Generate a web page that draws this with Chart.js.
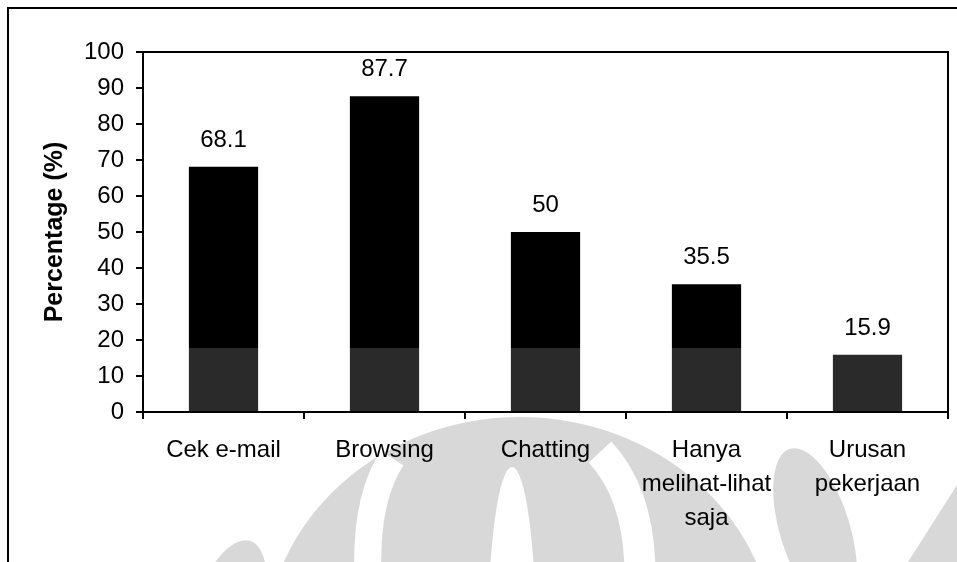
<!DOCTYPE html>
<html>
<head>
<meta charset="utf-8">
<script src="https://cdn.jsdelivr.net/npm/chart.js@4/dist/chart.umd.min.js"></script>
<style>
  html, body { margin: 0; padding: 0; background: #fff; }
  #wrap { width: 957px; height: 562px; position: relative; }
</style>
</head>
<body>
<div id="wrap"><canvas id="myChart"></canvas></div>
<script>
const activities = ["Cek e-mail", "Browsing", "Chatting", ["Hanya", "melihat-lihat", "saja"], ["Urusan", "pekerjaan"]];
const percentages = [68.1, 87.7, 50, 35.5, 15.9];
const yTicks = [0, 10, 20, 30, 40, 50, 60, 70, 80, 90, 100];

const FONT = "Liberation Sans, Arial, sans-serif";

// faint logo behind the category labels
const watermark = {
  id: "watermark",
  beforeDraw(chart) {
    const c = chart.ctx;
    c.save();
    c.beginPath();
    c.rect(0, 414, chart.width, chart.height);
    c.clip();
    c.fillStyle = "#d8d8d8";
    c.beginPath(); c.ellipse(520, 650, 255, 233, 0, 0, Math.PI * 2); c.fill();
    c.beginPath(); c.ellipse(815, 530, 35, 85, -0.3, 0, Math.PI * 2); c.fill();
    c.beginPath(); c.ellipse(225, 622, 35, 85, 0.3, 0, Math.PI * 2); c.fill();
    c.beginPath(); c.moveTo(957, 485); c.lineTo(957, 562); c.lineTo(908, 562); c.closePath(); c.fill();
    c.strokeStyle = "#ffffff";
    c.lineWidth = 27;
    c.beginPath(); c.moveTo(392, 458); c.quadraticCurveTo(365, 500, 368, 575); c.stroke();
    c.lineWidth = 31;
    c.beginPath(); c.moveTo(600, 452); c.quadraticCurveTo(640, 495, 640, 575); c.stroke();
    c.fillStyle = "#ffffff";
    c.beginPath(); c.ellipse(512, 640, 24, 173, 0, 0, Math.PI * 2); c.fill();
    c.restore();
  }
};

// value labels above bars, plot border and outer frame
const decorations = {
  id: "decorations",
  afterDraw(chart) {
    const c = chart.ctx;
    const a = chart.chartArea;
    c.save();
    c.strokeStyle = "#000";
    c.lineWidth = 2;
    c.strokeRect(a.left, a.top, a.right - a.left, a.bottom - a.top);
    c.beginPath();
    c.moveTo(8, chart.height); c.lineTo(8, 8); c.lineTo(chart.width, 8);
    c.stroke();

    c.fillStyle = "#000";
    c.font = "24px " + FONT;
    c.textAlign = "center";
    c.textBaseline = "alphabetic";
    chart.getDatasetMeta(0).data.forEach((bar, i) => {
      c.fillText(String(percentages[i]), bar.x, bar.y - 20);
    });
    c.restore();
  }
};

function barFill(context) {
  const chart = context.chart;
  const a = chart.chartArea;
  if (!a) return "#000";
  const split = chart.scales.y.getPixelForValue(17.8);
  const g = chart.ctx.createLinearGradient(0, a.top, 0, a.bottom);
  const s = (split - a.top) / (a.bottom - a.top);
  g.addColorStop(0, "#000");
  g.addColorStop(s, "#000");
  g.addColorStop(s, "#2a2a2a");
  g.addColorStop(1, "#2a2a2a");
  return g;
}

const canvas = document.getElementById("myChart");
new Chart(canvas, {
  type: "bar",
  data: {
    labels: activities,
    datasets: [{
      data: percentages,
      backgroundColor: barFill,
      borderWidth: 0,
      categoryPercentage: 0.43,
      barPercentage: 1
    }]
  },
  options: {
    responsive: true,
    maintainAspectRatio: false,
    animation: false,
    layout: { padding: { left: 8, top: 52, right: 9, bottom: 0 } },
    plugins: { legend: { display: false }, tooltip: { enabled: false } },
    scales: {
      x: {
        afterFit(scale) { scale.height = 150; },
        grid: { display: true, offset: true, drawOnChartArea: false, color: "#000", lineWidth: 2, tickLength: 7, tickWidth: 2 },
        border: { display: true, color: "#000", width: 2 },
        ticks: {
          color: "#000",
          font: { family: FONT, size: 24, lineHeight: 1.42 },
          padding: 14,
          maxRotation: 0,
          autoSkip: false
        }
      },
      y: {
        min: 0,
        max: 100,
        afterFit(scale) { scale.width = 135; },
        afterBuildTicks(scale) { scale.ticks = yTicks.map(v => ({ value: v })); },
        grid: { display: true, drawOnChartArea: false, color: "#000", lineWidth: 2, tickLength: 7, tickWidth: 2 },
        border: { display: true, color: "#000", width: 2 },
        ticks: { color: "#000", font: { family: FONT, size: 24 }, padding: 12 },
        title: {
          display: true,
          text: "Percentage (%)",
          color: "#000",
          font: { family: FONT, size: 25, weight: "bold" },
          padding: { top: 32, bottom: 0 }
        }
      }
    }
  },
  plugins: [watermark, decorations]
});
</script>
</body>
</html>
